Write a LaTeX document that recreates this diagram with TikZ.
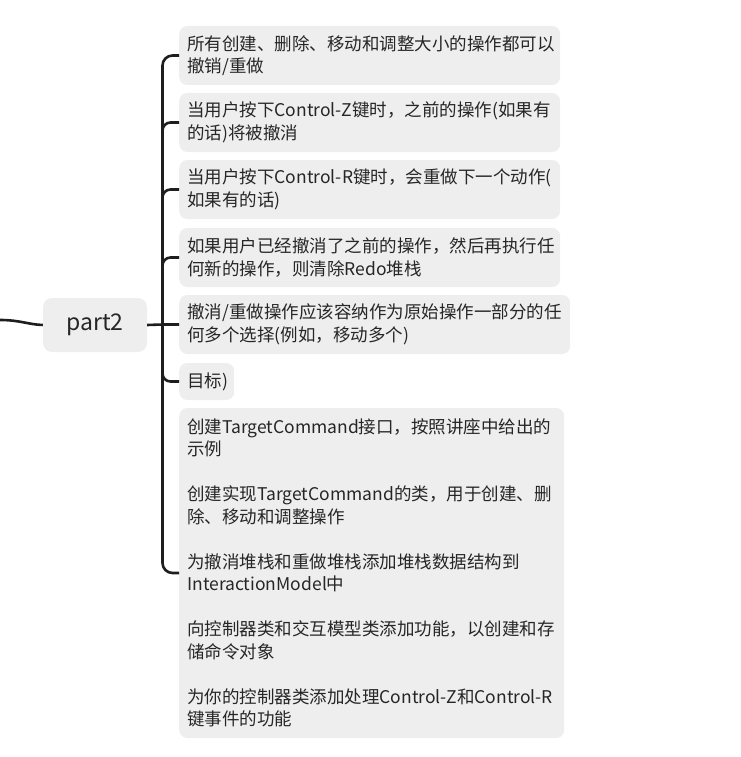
\documentclass[tikz,border=0pt]{standalone}
\usepackage{fontspec}
\setmainfont{Noto Sans CJK SC}
\definecolor{boxfill}{HTML}{EEEEEE}
\definecolor{txt}{HTML}{262626}
\definecolor{lin}{HTML}{1E1E1E}
\begin{document}
\begin{tikzpicture}[x=1pt,y=-1pt,
  leaf/.style={fill=boxfill, rounded corners=8pt, text=txt, anchor=west,
    align=left, inner xsep=8pt, inner ysep=0pt,
    font=\fontsize{17.5}{22.5}\selectfont},
  rootbox/.style={fill=boxfill, rounded corners=9pt, text=txt,
    minimum width=104pt, minimum height=54pt, inner sep=0pt,
    font=\fontsize{23}{26}\selectfont},
  conn/.style={draw=lin, line width=2.6pt},
]
\useasboundingbox (0,0) rectangle (740,757);

\node[rootbox] (p2) at (95,325) {part2};

\node[leaf, text width=365pt, minimum height=59pt] (b1) at (179,55.5)
  {所有创建、删除、移动和调整大小的操作都可以\\撤销/重做};
\node[leaf, text width=365pt, minimum height=59pt] (b2) at (179,122.5)
  {当用户按下Control-Z键时，之前的操作(如果有\\的话)将被撤消};
\node[leaf, text width=365pt, minimum height=59pt] (b3) at (179,189.5)
  {当用户按下Control-R键时，会重做下一个动作(\\如果有的话)};
\node[leaf, text width=365pt, minimum height=59pt] (b4) at (179,257.5)
  {如果用户已经撤消了之前的操作，然后再执行任\\何新的操作，则清除Redo堆栈};
\node[leaf, text width=375pt, minimum height=59pt] (b5) at (179,324.5)
  {撤消/重做操作应该容纳作为原始操作一部分的任\\何多个选择(例如，移动多个)};
\node[leaf, text width=39pt, minimum height=37pt] (b6) at (179,381.5)
  {目标)};
\node[leaf, text width=369pt, minimum height=330pt] (b7) at (179,573)
  {创建TargetCommand接口，按照讲座中给出的\\示例\\\mbox{}\\创建实现TargetCommand的类，用于创建、删\\除、移动和调整操作\\\mbox{}\\为撤消堆栈和重做堆栈添加堆栈数据结构到\\InteractionModel中\\\mbox{}\\向控制器类和交互模型类添加功能，以创建和存\\储命令对象\\\mbox{}\\为你的控制器类添加处理Control-Z和Control-R\\键事件的功能};

\coordinate (rootin) at (0,320);
\coordinate (trunk) at (162.5,324.5);
\coordinate (s2) at (162.5,140);
\coordinate (s3) at (162.5,207);
\coordinate (s4) at (162.5,275);
\coordinate (s6) at (162.5,364);

\draw[conn] (rootin) .. controls (20,320) and (28,324.5) .. (p2.west);
\draw[conn] (p2.east) -- (trunk) -- (b5.west);
\draw[conn, rounded corners=10pt] (b1.west) -| (trunk) |- (b7.west);
\draw[conn, rounded corners=8pt] (s2) |- (b2.west);
\draw[conn, rounded corners=8pt] (s3) |- (b3.west);
\draw[conn, rounded corners=8pt] (s4) |- (b4.west);
\draw[conn, rounded corners=8pt] (s6) |- (b6.west);
\end{tikzpicture}
\end{document}
